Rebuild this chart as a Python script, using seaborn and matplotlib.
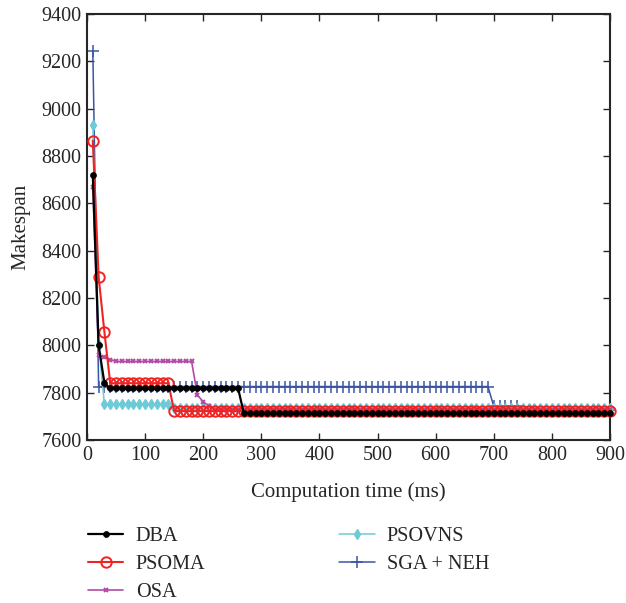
import numpy as np
import pandas as pd
import matplotlib
matplotlib.use("Agg")
import matplotlib.pyplot as plt
import seaborn as sns

# ---- data ----
time_ms = list(range(10, 901, 10))  # sampling grid, 90 points

dba = [8720, 8000, 7840] + [7818] * 23 + [7712] * 64
psoma = [8865, 8290, 8055] + [7840] * 11 + [7722] * 76
osa = [8670, 7958, 7950, 7940] + [7932] * 14 + [7790, 7762, 7742] + [7728] * 69
psovns = [8930, 8000] + [7752] * 12 + [7736] * 76
sga_neh = [9245] + [7826] * 68 + [7742] * 5 + [7725] * 16

series_names = ["DBA", "PSOMA", "OSA", "PSOVNS", "SGA + NEH"]
x_ticks = [0, 100, 200, 300, 400, 500, 600, 700, 800, 900]
y_ticks = [7600, 7800, 8000, 8200, 8400, 8600, 8800, 9000, 9200, 9400]

sns.set_style("ticks")
plt.rcParams["font.family"] = ["Liberation Serif", "DejaVu Serif"]

fig = plt.figure(figsize=(6.26, 6.03), dpi=100)
ax = fig.add_axes([87 / 626, 1 - 440 / 603, (610 - 87) / 626, (440 - 14) / 603])

styles = {
    "SGA + NEH": dict(color="#3a55a4", marker="+", markersize=8, markeredgewidth=1.1,
                      markerfacecolor="#3a55a4", markeredgecolor="#3a55a4",
                      linewidth=1.1, zorder=2),
    "PSOVNS": dict(color="#6ccbd6", marker="d", markersize=5.5, markeredgewidth=1.0,
                   markerfacecolor="#6ccbd6", markeredgecolor="#6ccbd6",
                   linewidth=1.1, zorder=3),
    "OSA": dict(color="#b24aa8", marker="x", markersize=3.5, markeredgewidth=1.4,
                markerfacecolor="#b24aa8", markeredgecolor="#b24aa8",
                linewidth=1.2, zorder=4),
    "PSOMA": dict(color="#ee2424", marker="o", markersize=7.5, markerfacecolor="none",
                  markeredgecolor="#ee2424", markeredgewidth=1.4, linewidth=1.5, zorder=5),
    "DBA": dict(color="black", marker="o", markersize=4.3, markeredgewidth=0.5,
                markerfacecolor="black", markeredgecolor="black",
                linewidth=1.6, zorder=6),
}
values = {"DBA": dba, "PSOMA": psoma, "OSA": osa, "PSOVNS": psovns, "SGA + NEH": sga_neh}

handles = {}
for name in ["SGA + NEH", "PSOVNS", "OSA", "PSOMA", "DBA"]:
    df = pd.DataFrame({"t": time_ms, "v": values[name]})
    sns.lineplot(data=df, x="t", y="v", ax=ax, color=styles[name]["color"],
                 legend=False)
    line = ax.lines[-1]
    line.set(linestyle="-", label=name, clip_on=False, **styles[name])
    handles[name] = line

ax.set_xlim(0, 900)
ax.set_ylim(7600, 9400)
ax.set_xticks(x_ticks)
ax.set_yticks(y_ticks)
ax.tick_params(direction="in", top=True, right=True, labelsize=14.5, length=5, width=1,
               pad=4)
for s in ax.spines.values():
    s.set_linewidth(1.5)
ax.set_xlabel("Computation time (ms)", fontsize=15, labelpad=13)
ax.set_ylabel("Makespan", fontsize=15, labelpad=8)

fig.legend([handles[n] for n in series_names], series_names, loc="upper left",
           bbox_to_anchor=(88 / 626, 1 - 527 / 603), ncol=2, frameon=False,
           fontsize=14.6, handlelength=1.75, handletextpad=0.6, columnspacing=6.6,
           labelspacing=0.42, borderaxespad=0, borderpad=0)

fig.savefig("out.png", dpi=100)
